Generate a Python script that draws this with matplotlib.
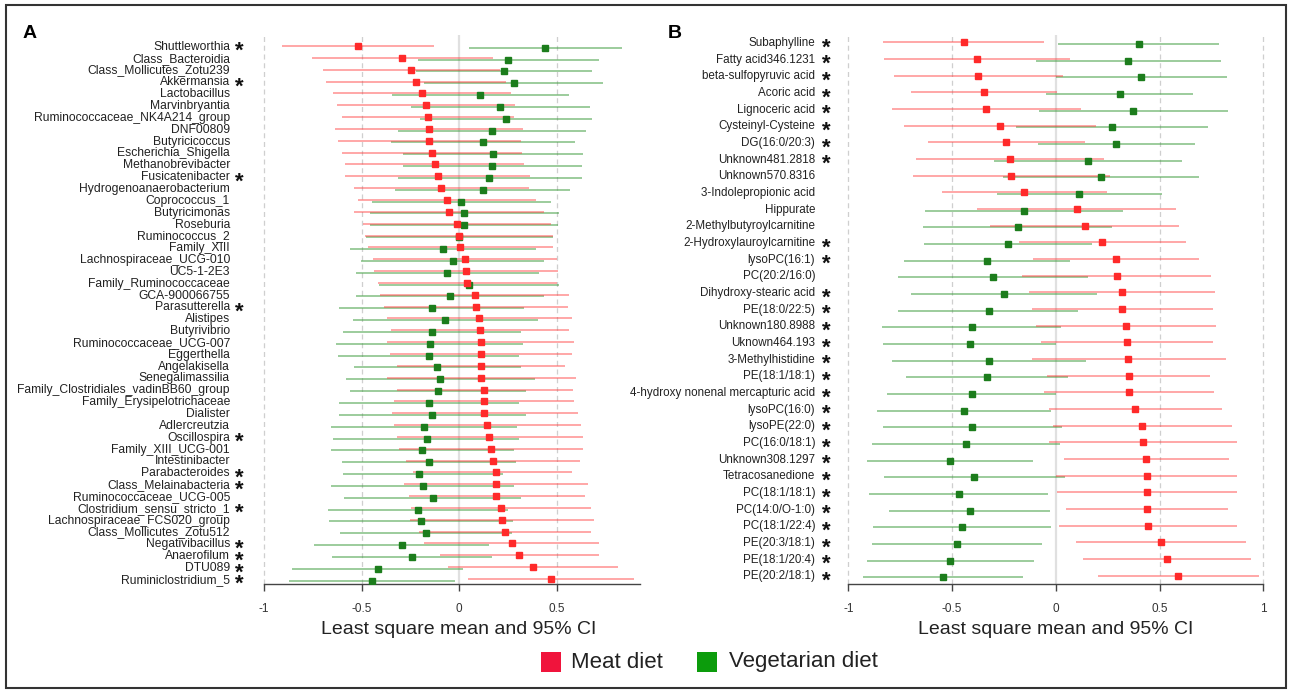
import matplotlib
matplotlib.use('Agg')
import matplotlib.pyplot as plt
from matplotlib.patches import Rectangle
from matplotlib.font_manager import FontProperties
from matplotlib.transforms import blended_transform_factory, offset_copy

plt.rcParams['font.family'] = ['Liberation Sans', 'DejaVu Sans']
plt.rcParams['axes.unicode_minus'] = False

# ---- panel A : genera ----
genera = ['Shuttleworthia', 'Class_Bacteroidia', 'Class_Mollicutes_Zotu239', 'Akkermansia',
          'Lactobacillus', 'Marvinbryantia', 'Ruminococcaceae_NK4A214_group', 'DNF00809',
          'Butyricicoccus', 'Escherichia_Shigella', 'Methanobrevibacter', 'Fusicatenibacter',
          'Hydrogenoanaerobacterium', 'Coprococcus_1', 'Butyricimonas', 'Roseburia',
          'Ruminococcus_2', 'Family_XIII', 'Lachnospiraceae_UCG-010', 'UC5-1-2E3',
          'Family_Ruminococcaceae', 'GCA-900066755', 'Parasutterella', 'Alistipes',
          'Butyrivibrio', 'Ruminococcaceae_UCG-007', 'Eggerthella', 'Angelakisella',
          'Senegalimassilia', 'Family_Clostridiales_vadinBB60_group', 'Family_Erysipelotrichaceae',
          'Dialister', 'Adlercreutzia', 'Oscillospira', 'Family_XIII_UCG-001', 'Intestinibacter',
          'Parabacteroides', 'Class_Melainabacteria', 'Ruminococcaceae_UCG-005',
          'Clostridium_sensu_stricto_1', 'Lachnospiraceae_FCS020_group', 'Class_Mollicutes_Zotu512',
          'Negativibacillus', 'Anaerofilum', 'DTU089', 'Ruminiclostridium_5']
genera_sig = [1, 0, 0, 1, 0, 0, 0, 0, 0, 0, 0, 1, 0, 0, 0, 0, 0, 0, 0, 0, 0, 0, 1, 0,
              0, 0, 0, 0, 0, 0, 0, 0, 0, 1, 0, 0, 1, 1, 0, 1, 0, 0, 1, 1, 1, 1]
meat_a = [-0.516, -0.29, -0.245, -0.222, -0.191, -0.171, -0.161, -0.156, -0.152, -0.14, -0.125,
          -0.109, -0.092, -0.063, -0.051, -0.009, 0.002, 0.007, 0.031, 0.038, 0.043, 0.08, 0.087,
          0.103, 0.106, 0.113, 0.113, 0.113, 0.114, 0.127, 0.13, 0.13, 0.144, 0.154, 0.164, 0.174,
          0.188, 0.188, 0.191, 0.214, 0.219, 0.236, 0.273, 0.308, 0.378, 0.473]
meat_a_lo = [-0.91, -0.752, -0.696, -0.684, -0.644, -0.627, -0.598, -0.636, -0.622, -0.602, -0.586,
             -0.583, -0.54, -0.516, -0.538, -0.49, -0.48, -0.468, -0.439, -0.434, -0.417, -0.405,
             -0.385, -0.369, -0.35, -0.368, -0.354, -0.316, -0.371, -0.32, -0.332, -0.345, -0.333,
             -0.32, -0.306, -0.272, -0.234, -0.282, -0.258, -0.246, -0.251, -0.203, -0.179, -0.1,
             -0.058, 0.045]
meat_a_hi = [-0.127, 0.176, 0.21, 0.239, 0.265, 0.289, 0.282, 0.327, 0.32, 0.323, 0.333, 0.364,
             0.357, 0.395, 0.436, 0.472, 0.484, 0.484, 0.501, 0.506, 0.501, 0.564, 0.561, 0.578,
             0.564, 0.588, 0.581, 0.544, 0.6, 0.583, 0.59, 0.609, 0.624, 0.634, 0.634, 0.62, 0.578,
             0.66, 0.648, 0.675, 0.694, 0.677, 0.72, 0.718, 0.814, 0.899]
veg_a = [0.44, 0.253, 0.231, 0.28, 0.108, 0.212, 0.243, 0.169, 0.121, 0.176, 0.169, 0.155, 0.121,
         0.01, 0.026, 0.026, 0.0, -0.08, -0.032, -0.06, 0.053, -0.048, -0.14, -0.07, -0.14, -0.15,
         -0.156, -0.113, -0.097, -0.109, -0.156, -0.137, -0.178, -0.166, -0.19, -0.152, -0.205,
         -0.186, -0.132, -0.212, -0.195, -0.169, -0.294, -0.241, -0.417, -0.448]
veg_a_lo = [0.05, -0.212, -0.222, -0.178, -0.342, -0.248, -0.198, -0.313, -0.349, -0.285, -0.289,
            -0.315, -0.328, -0.444, -0.458, -0.456, -0.475, -0.557, -0.503, -0.53, -0.41, -0.53,
            -0.615, -0.544, -0.595, -0.629, -0.622, -0.54, -0.579, -0.561, -0.615, -0.615, -0.658,
            -0.644, -0.658, -0.598, -0.593, -0.658, -0.588, -0.673, -0.665, -0.61, -0.744, -0.65,
            -0.855, -0.873]
veg_a_hi = [0.834, 0.718, 0.682, 0.74, 0.562, 0.672, 0.682, 0.651, 0.593, 0.638, 0.632, 0.632,
            0.569, 0.47, 0.511, 0.509, 0.48, 0.395, 0.437, 0.41, 0.513, 0.437, 0.332, 0.403, 0.316,
            0.327, 0.309, 0.318, 0.388, 0.342, 0.308, 0.342, 0.299, 0.309, 0.284, 0.292, 0.227,
            0.284, 0.318, 0.25, 0.275, 0.273, 0.154, 0.171, 0.019, -0.02]

# ---- panel B : metabolites ----
metabolites = ['Subaphylline', 'Fatty acid346.1231', 'beta-sulfopyruvic acid', 'Acoric acid',
               'Lignoceric acid', 'Cysteinyl-Cysteine', 'DG(16:0/20:3)', 'Unknown481.2818',
               'Unknown570.8316', '3-Indolepropionic acid', 'Hippurate', '2-Methylbutyroylcarnitine',
               '2-Hydroxylauroylcarnitine', 'lysoPC(16:1)', 'PC(20:2/16:0)', 'Dihydroxy-stearic acid',
               'PE(18:0/22:5)', 'Unknown180.8988', 'Uknown464.193', '3-Methylhistidine',
               'PE(18:1/18:1)', '4-hydroxy nonenal mercapturic acid', 'lysoPC(16:0)', 'lysoPE(22:0)',
               'PC(16:0/18:1)', 'Unknown308.1297', 'Tetracosanedione', 'PC(18:1/18:1)',
               'PC(14:0/O-1:0)', 'PC(18:1/22:4)', 'PE(20:3/18:1)', 'PE(18:1/20:4)', 'PE(20:2/18:1)']
metab_sig = [1, 1, 1, 1, 1, 1, 1, 1, 0, 0, 0, 0, 1, 1, 0, 1, 1, 1, 1, 1, 1, 1, 1, 1, 1, 1, 1,
             1, 1, 1, 1, 1, 1]
meat_b = [-0.443, -0.382, -0.373, -0.345, -0.336, -0.271, -0.238, -0.222, -0.214, -0.153, 0.1,
          0.14, 0.225, 0.289, 0.296, 0.32, 0.321, 0.337, 0.342, 0.35, 0.352, 0.355, 0.384, 0.416,
          0.418, 0.437, 0.439, 0.44, 0.44, 0.442, 0.506, 0.535, 0.59]
meat_b_lo = [-0.832, -0.827, -0.782, -0.699, -0.789, -0.731, -0.618, -0.673, -0.688, -0.549,
             -0.379, -0.316, -0.177, -0.111, -0.161, -0.13, -0.114, -0.095, -0.071, -0.117, -0.042,
             -0.056, -0.034, -0.013, -0.035, 0.039, 0.002, 0.006, 0.051, 0.013, 0.096, 0.133, 0.202]
meat_b_hi = [-0.055, 0.066, 0.035, 0.008, 0.119, 0.193, 0.143, 0.233, 0.26, 0.247, 0.578, 0.596,
             0.628, 0.691, 0.75, 0.766, 0.757, 0.773, 0.76, 0.818, 0.745, 0.763, 0.802, 0.847,
             0.871, 0.837, 0.871, 0.874, 0.83, 0.871, 0.919, 0.941, 0.977]
veg_b = [0.402, 0.35, 0.413, 0.308, 0.374, 0.273, 0.292, 0.153, 0.217, 0.112, -0.154, -0.183,
         -0.23, -0.333, -0.304, -0.249, -0.324, -0.406, -0.414, -0.321, -0.331, -0.405, -0.443,
         -0.402, -0.432, -0.511, -0.392, -0.469, -0.413, -0.451, -0.477, -0.508, -0.543]
veg_b_lo = [0.01, -0.095, 0.0, -0.045, -0.08, -0.191, -0.085, -0.299, -0.254, -0.284, -0.63,
            -0.641, -0.633, -0.734, -0.76, -0.696, -0.76, -0.84, -0.831, -0.79, -0.724, -0.814,
            -0.861, -0.832, -0.884, -0.909, -0.826, -0.901, -0.805, -0.88, -0.887, -0.912, -0.929]
veg_b_hi = [0.787, 0.795, 0.826, 0.66, 0.829, 0.734, 0.673, 0.607, 0.691, 0.512, 0.323, 0.273,
            0.175, 0.069, 0.153, 0.199, 0.109, 0.027, 0.0, 0.146, 0.061, 0.003, -0.022, 0.029,
            0.022, -0.109, 0.045, -0.037, -0.026, -0.022, -0.066, -0.106, -0.159]

RED = '#ff2a2a'
GREEN = '#1c7d1c'
RED_LINE = '#ff3b3b'
GREEN_LINE = '#3a9a3a'
STAR_SIZE = 16

W, H = 1291, 693
fig = plt.figure(figsize=(W / 100, H / 100), dpi=100)
renderer = fig.canvas.get_renderer()


def px_axes(left, right, top, bottom):
    return fig.add_axes([left / W, 1 - bottom / H, (right - left) / W, (bottom - top) / H])


def draw_panel(ax, names, sig, r_m, r_lo, r_hi, g_m, g_lo, g_hi, xlim, ylim, ticks, grid,
               spine_end, label_px, star_px, fs, ms, off):
    n = len(names)
    ax.set_xlim(xlim)
    ax.set_ylim(ylim)
    for g in grid:
        ax.axvline(g, color='#cfcfcf', lw=0.9, ls=(0, (4, 3)), zorder=0)
    ax.axvline(0, color='#e0e0e0', lw=1.6, zorder=0)
    for i in range(n):
        ax.plot([g_lo[i], g_hi[i]], [i + off, i + off], color=GREEN_LINE, lw=1.4, alpha=0.5,
                solid_capstyle='butt', zorder=2)
        ax.plot([r_lo[i], r_hi[i]], [i - off, i - off], color=RED_LINE, lw=1.4, alpha=0.45,
                solid_capstyle='butt', zorder=3)
    ax.plot(g_m, [i + off for i in range(n)], ls='none', marker='s', ms=ms, color=GREEN,
            mec=GREEN, zorder=4)
    ax.plot(r_m, [i - off for i in range(n)], ls='none', marker='s', ms=ms, color=RED,
            mec=RED, zorder=5)

    for s in ['top', 'right', 'left']:
        ax.spines[s].set_visible(False)
    ax.spines['bottom'].set_color('#444444')
    ax.spines['bottom'].set_linewidth(1.0)
    ax.spines['bottom'].set_bounds(-1, spine_end)
    ax.set_yticks([])
    ax.set_xticks(ticks)
    ax.set_xticklabels([('%g' % t) for t in ticks])
    ax.tick_params(axis='x', length=5, width=1.0, color='#444444', labelsize=8.5,
                   labelcolor='#333333', pad=9)

    tr = blended_transform_factory(fig.transFigure, ax.transData)
    for i in range(n):
        ax.text(label_px / W, i, names[i], transform=tr, ha='right', va='center',
                fontsize=fs, color='#222222', clip_on=False)

    # significance column: one multi-line text whose line pitch equals the row pitch
    # (matplotlib puts lines (asc * linespacing + descent) apart)
    prop = FontProperties(family=['Liberation Sans', 'DejaVu Sans'], size=STAR_SIZE,
                          weight='bold')
    _, lp_h, lp_d = renderer.get_text_width_height_descent('lp', prop, ismath=False)
    asc = lp_h - lp_d
    y0, y1 = ax.transData.transform([(0, 0), (0, 1)])[:, 1]
    row_px = abs(y1 - y0)
    stars = '\n'.join('*' if s else ' ' for s in sig)
    # the asterisk glyph sits high: drop the first baseline below row 0
    drop = 0.463 * STAR_SIZE * 100 / 72
    tr_star = offset_copy(tr, fig=fig, x=0, y=asc - drop, units='dots')
    ax.text(star_px / W, 0, stars, transform=tr_star, ha='center', va='top',
            multialignment='center', fontproperties=prop, color='#111111',
            linespacing=(row_px - lp_d) / asc, clip_on=False)

    trx = blended_transform_factory(ax.transData, fig.transFigure)
    ax.text(0, 1 - 630 / H, 'Least square mean and 95% CI', transform=trx, ha='center',
            va='center', fontsize=14, color='#222222')


ax_a = px_axes(260.1, 640.4, 35, 584)
draw_panel(ax_a, genera, genera_sig, meat_a, meat_a_lo, meat_a_hi, veg_a, veg_a_lo, veg_a_hi,
           (-1.02, 0.93), (45.35, -1.0), [-1, -0.5, 0, 0.5], [-1, -0.5, 0.5], 0.93,
           230, 239, 8.7, 4.2, 0.07)

ax_b = px_axes(844.2, 1269.5, 35, 584)
draw_panel(ax_b, metabolites, metab_sig, meat_b, meat_b_lo, meat_b_hi, veg_b, veg_b_lo, veg_b_hi,
           (-1.02, 1.03), (32.46, -0.49), [-1, -0.5, 0, 0.5, 1], [-1, -0.5, 0.5, 1], 1,
           815, 826, 8.4, 5.0, 0.05)

fig.text(23 / W, 1 - 33 / H, 'A', fontsize=14, fontweight='bold', va='center', ha='left')
fig.text(668 / W, 1 - 33 / H, 'B', fontsize=14, fontweight='bold', va='center', ha='left')

# legend at the bottom
fig.patches.append(Rectangle((541 / W, 1 - 672 / H), 20 / W, 20 / H, transform=fig.transFigure,
                             facecolor='#f0143c', edgecolor='none'))
fig.text(571 / W, 1 - 662 / H, 'Meat diet', fontsize=16, va='center', ha='left', color='#222222')
fig.patches.append(Rectangle((697 / W, 1 - 672 / H), 20 / W, 20 / H, transform=fig.transFigure,
                             facecolor='#0c9c0c', edgecolor='none'))
fig.text(729 / W, 1 - 662 / H, 'Vegetarian diet', fontsize=16, va='center', ha='left',
         color='#222222')

# outer frame
fig.patches.append(Rectangle((6 / W, 5 / H), 1280 / W, 683 / H, transform=fig.transFigure,
                             facecolor='none', edgecolor='#333333', lw=1.5))

fig.savefig('out.png', dpi=100)
